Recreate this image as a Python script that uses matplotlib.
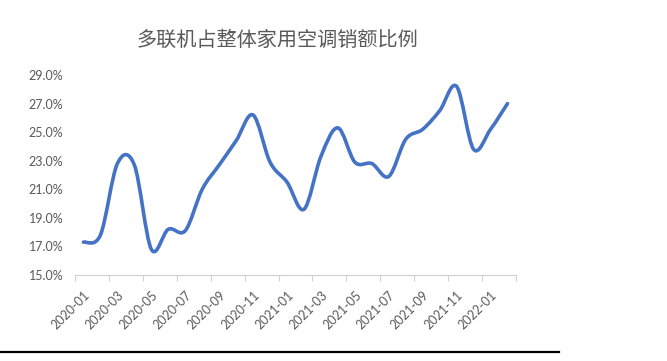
import matplotlib
matplotlib.use("Agg")
import matplotlib.pyplot as plt
import numpy as np
from matplotlib.path import Path
from matplotlib.patches import PathPatch
from matplotlib.lines import Line2D

# monthly share of VRF in household AC sales (%)
months = ['2020-01', '2020-02', '2020-03', '2020-04', '2020-05', '2020-06',
          '2020-07', '2020-08', '2020-09', '2020-10', '2020-11', '2020-12',
          '2021-01', '2021-02', '2021-03', '2021-04', '2021-05', '2021-06',
          '2021-07', '2021-08', '2021-09', '2021-10', '2021-11', '2021-12',
          '2022-01', '2022-02']
share = [17.3, 17.8, 22.8, 22.7, 16.8, 18.2, 18.1, 21.0, 22.7, 24.4, 26.2, 22.9,
         21.5, 19.6, 23.3, 25.3, 22.9, 22.8, 21.9, 24.5, 25.2, 26.5, 28.2, 23.8,
         25.2, 27.0]

title = '多联机占整体家用空调销额比例'
ink = '#595959'
blue = '#4472C4'

plt.rcParams['font.family'] = ['Lato', 'DejaVu Sans']

fig = plt.figure(figsize=(6.67, 3.61), dpi=100)
ax = fig.add_axes([75 / 667, 1 - 275 / 361, (516 - 75) / 667, 200 / 361])

# smooth line like excel's "smoothed line" (bezier through the points)
x = np.arange(len(share), dtype=float)
y = np.array(share)
verts = [(x[0], y[0])]
codes = [Path.MOVETO]
n = len(x)
for i in range(n - 1):
    p0 = np.array([x[max(i - 1, 0)], y[max(i - 1, 0)]])
    p1 = np.array([x[i], y[i]])
    p2 = np.array([x[i + 1], y[i + 1]])
    p3 = np.array([x[min(i + 2, n - 1)], y[min(i + 2, n - 1)]])
    c1 = p1 + (p2 - p0) / 6
    c2 = p2 - (p3 - p1) / 6
    verts += [tuple(c1), tuple(c2), tuple(p2)]
    codes += [Path.CURVE4] * 3
ax.add_patch(PathPatch(Path(verts, codes), facecolor='none', edgecolor=blue,
                       lw=2.6, capstyle='round', joinstyle='round'))

ax.set_xlim(-0.5, n - 0.5)
ax.set_ylim(15, 29)
ax.set_yticks(np.arange(15, 29.1, 2))
ax.set_yticklabels(['%.1f%%' % v for v in np.arange(15, 29.1, 2)])

ax.set_xticks(np.arange(-0.5, n, 2))
ax.set_xticklabels([])
ax.set_xticks(np.arange(0, n, 2), minor=True)
ax.set_xticklabels(months[::2], minor=True, rotation=45, ha='right', va='top',
                   rotation_mode='anchor')

for s in ['top', 'right', 'left']:
    ax.spines[s].set_visible(False)
ax.spines['bottom'].set_color('#d0d0d0')
ax.tick_params(axis='x', which='major', length=4, color='#d0d0d0')
ax.tick_params(axis='x', which='minor', length=0, pad=10, labelsize=9, labelcolor=ink)
ax.tick_params(axis='y', length=0, pad=8.5, labelsize=9, labelcolor=ink)

fig.text(277 / 667, 1 - 40 / 361, title, ha='center', va='center', fontsize=14.5,
         color=ink, family=['Noto Sans CJK SC', 'DejaVu Sans'])

fig.add_artist(Line2D([0, 559 / 667], [1 - 352 / 361] * 2, color='black', lw=1.6,
                      transform=fig.transFigure))

fig.savefig('out.png', dpi=100)
